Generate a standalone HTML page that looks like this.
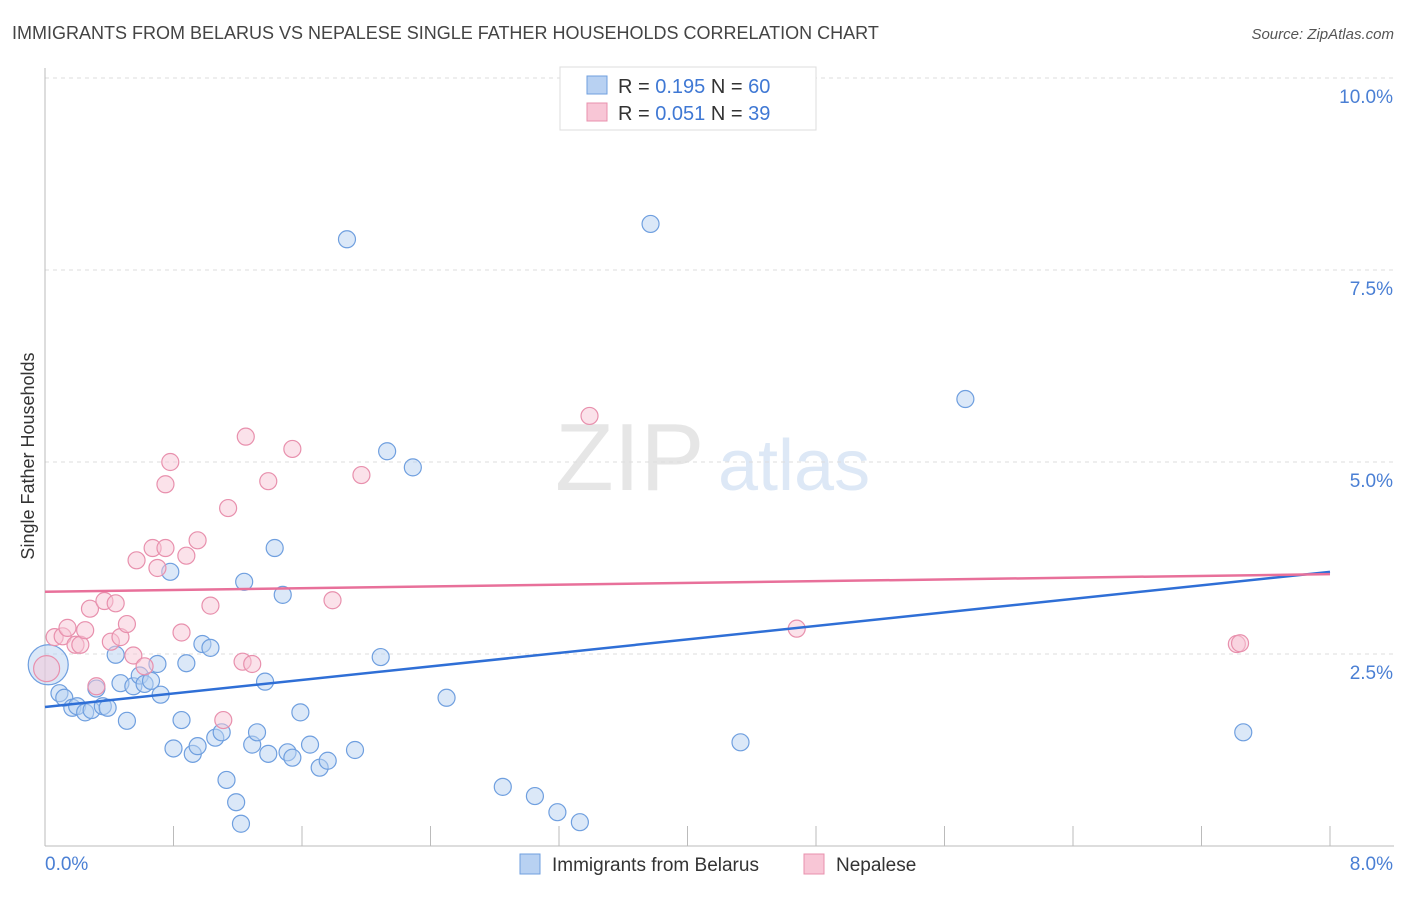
<!DOCTYPE html>
<html><head><meta charset="utf-8"><style>
body{margin:0;background:#fff;font-family:"Liberation Sans",sans-serif}
svg text{font-family:"Liberation Sans",sans-serif}
</style></head><body>
<svg id="chart" width="1406" height="892" xmlns="http://www.w3.org/2000/svg">
<text x="12" y="39" font-size="18" fill="#444">IMMIGRANTS FROM BELARUS VS NEPALESE SINGLE FATHER HOUSEHOLDS CORRELATION CHART</text>
<text x="1394" y="39" font-size="15" fill="#555" font-style="italic" text-anchor="end">Source: ZipAtlas.com</text>
<g>
<text x="555" y="490" font-size="96" fill="#e6e6e6" font-family="Liberation Serif">ZIP</text>
<text x="718" y="490" font-size="72" fill="#dde8f6">atlas</text>
</g>
<g id="grid"></g>
<g id="axes"></g>
<g id="marks"></g>
<g>
<rect x="560" y="67" width="256" height="63" fill="#fff" stroke="#ddd"/>
<rect x="587" y="76" width="20" height="18" fill="#b8d1f2" stroke="#6f9fdf"/>
<rect x="587" y="103" width="20" height="18" fill="#f8c6d6" stroke="#e890ad"/>
<text x="618" y="93" font-size="20" fill="#333">R = <tspan fill="#3f78d4">0.195</tspan>   N = <tspan fill="#3f78d4">60</tspan></text>
<text x="618" y="120" font-size="20" fill="#333">R = <tspan fill="#3f78d4">0.051</tspan>   N = <tspan fill="#3f78d4">39</tspan></text>
</g>
<g>
<rect x="520" y="854" width="20" height="20" fill="#b8d1f2" stroke="#6f9fdf"/>
<text x="552" y="871" font-size="19" fill="#333">Immigrants from Belarus</text>
<rect x="804" y="854" width="20" height="20" fill="#f8c6d6" stroke="#e890ad"/>
<text x="836" y="871" font-size="19" fill="#333">Nepalese</text>
</g>
<text transform="translate(34,456) rotate(-90)" font-size="18" fill="#333" text-anchor="middle">Single Father Households</text>
</svg>
<script>
const xTicks=[0,0.8,1.6,2.4,3.2,4.0,4.8,5.6,6.4,7.2,8.0];
const yTicks=[2.5,5.0,7.5,10.0];
const yTickLabels=["2.5%","5.0%","7.5%","10.0%"];
const belarusX=[0.02,0.09,0.12,0.17,0.2,0.25,0.29,0.32,0.36,0.39,0.44,0.47,0.51,0.55,0.59,0.62,0.66,0.7,0.72,0.78,0.8,0.85,0.88,0.92,0.95,0.98,1.03,1.06,1.1,1.13,1.19,1.22,1.24,1.29,1.32,1.37,1.39,1.43,1.48,1.51,1.54,1.59,1.65,1.71,1.76,1.88,1.93,2.09,2.13,2.29,2.5,2.85,3.05,3.19,3.33,3.77,4.33,5.73,7.46];
const belarusY=[2.36,1.99,1.93,1.8,1.82,1.74,1.77,2.05,1.82,1.8,2.49,2.12,1.63,2.08,2.22,2.11,2.15,2.37,1.97,3.57,1.27,1.64,2.38,1.2,1.3,2.63,2.58,1.41,1.48,0.86,0.57,0.29,3.44,1.32,1.48,2.14,1.2,3.88,3.27,1.22,1.15,1.74,1.32,1.02,1.11,7.9,1.25,2.46,5.14,4.93,1.93,0.77,0.65,0.44,0.31,8.1,1.35,5.82,1.48];
const nepalX=[0.01,0.06,0.11,0.14,0.19,0.22,0.25,0.28,0.32,0.37,0.41,0.44,0.47,0.51,0.55,0.57,0.62,0.67,0.7,0.75,0.78,0.75,0.85,0.88,0.95,1.03,1.11,1.14,1.25,1.23,1.29,1.39,1.54,1.79,1.97,3.39,4.68,7.42,7.44];
const nepalY=[2.31,2.72,2.73,2.84,2.62,2.62,2.81,3.09,2.08,3.19,2.66,3.16,2.72,2.89,2.48,3.72,2.34,3.88,3.62,3.88,5.0,4.71,2.78,3.78,3.98,3.13,1.64,4.4,5.33,2.4,2.37,4.75,5.17,3.2,4.83,5.6,2.83,2.63,2.64];
const belarusTrend=[1.81,3.57];
const nepalTrend=[3.31,3.54];
const NS='http://www.w3.org/2000/svg';
const X=v=>45+v*160.625, Y=v=>846-v*76.8;
function el(t,a,p){const e=document.createElementNS(NS,t);for(const k in a)e.setAttribute(k,a[k]);p.appendChild(e);return e;}
const grid=document.getElementById('grid'),axes=document.getElementById('axes'),marks=document.getElementById('marks');
yTicks.forEach((t,i)=>{
 const g=el('line',{x1:45,x2:1394,y1:Y(t),y2:Y(t),stroke:'#ddd','stroke-dasharray':'4,4'},grid);
 
 
 const tx=el('text',{x:1393,y:Y(t)+25,'font-size':19,fill:'#4a7fd4','text-anchor':'end'},axes);
 tx.textContent=yTickLabels[i];
 
 
});
const xa=el('line',{x1:45,x2:1394,y1:846,y2:846,stroke:'#bbb'},axes);


const ya=el('line',{x1:45,x2:45,y1:68,y2:846,stroke:'#bbb'},axes);


xTicks.forEach(t=>{const l=el('line',{x1:X(t),x2:X(t),y1:826,y2:846,stroke:'#bbb'},axes);
 
 });
const xl0=el('text',{x:45,y:870,'font-size':19,fill:'#4a7fd4'},axes);xl0.textContent='0.0%';


const xl1=el('text',{x:1393,y:870,'font-size':19,fill:'#4a7fd4','text-anchor':'end'},axes);xl1.textContent='8.0%';


function pts(xs,ys,fill,stroke,name,big){xs.forEach((x,i)=>{
 const c=el('circle',{cx:X(x),cy:Y(ys[i]),r:(i===0?big:8.5),fill:fill,'fill-opacity':0.5,stroke:stroke,'stroke-width':1.2},marks);
 
 });}
pts(belarusX,belarusY,'#b8d1f2','#6f9fdf','belarus-point',20);
pts(nepalX,nepalY,'#f8c6d6','#e890ad','nepalese-point',13);
const t1=el('line',{x1:X(0),y1:Y(belarusTrend[0]),x2:X(8),y2:Y(belarusTrend[1]),stroke:'#2f6fd6','stroke-width':2.5},marks);


const t2=el('line',{x1:X(0),y1:Y(nepalTrend[0]),x2:X(8),y2:Y(nepalTrend[1]),stroke:'#e8709a','stroke-width':2.5},marks);


</script>
</body></html>
